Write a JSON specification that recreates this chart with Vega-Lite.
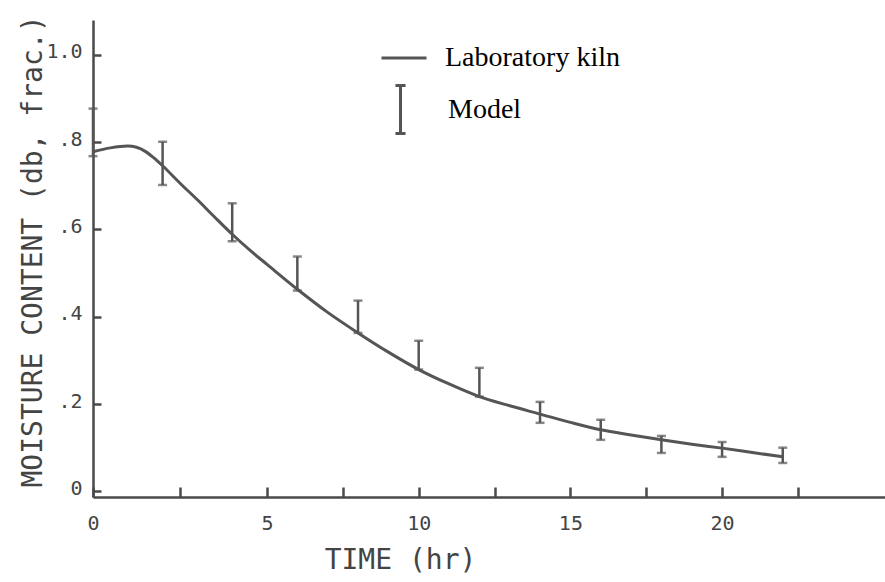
{
  "$schema": "https://vega.github.io/schema/vega-lite/v6.json",
  "autosize": {"type": "none"},
  "padding": {"left": 93, "top": 20, "right": 0, "bottom": 85},
  "width": 792,
  "height": 477,
  "background": "white",
  "config": {
    "view": {"stroke": null},
    "axis": {
      "domainColor": "#4a4a4a",
      "domainWidth": 2.5,
      "tickColor": "#4a4a4a",
      "tickWidth": 2.5,
      "grid": false,
      "labelFont": "DejaVu Sans Mono",
      "labelFontSize": 20,
      "labelColor": "#444",
      "titleFont": "DejaVu Sans Mono",
      "titleFontSize": 28,
      "titleFontWeight": "normal",
      "titleColor": "#444"
    }
  },
  "datasets": {
    "kiln": [
      {"t": 0, "mc": 0.778}, {"t": 0.5, "mc": 0.787}, {"t": 1.0, "mc": 0.791}, {"t": 1.5, "mc": 0.779},
      {"t": 1.75, "mc": 0.764}, {"t": 2, "mc": 0.746}, {"t": 2.5, "mc": 0.706}, {"t": 3, "mc": 0.668},
      {"t": 3.5, "mc": 0.628}, {"t": 4, "mc": 0.589}, {"t": 4.5, "mc": 0.553}, {"t": 5, "mc": 0.520},
      {"t": 6, "mc": 0.463}, {"t": 7, "mc": 0.410}, {"t": 8, "mc": 0.363}, {"t": 9, "mc": 0.319},
      {"t": 10, "mc": 0.279}, {"t": 11, "mc": 0.246}, {"t": 12, "mc": 0.217}, {"t": 13, "mc": 0.196},
      {"t": 14, "mc": 0.177}, {"t": 15, "mc": 0.158}, {"t": 16, "mc": 0.141}, {"t": 17, "mc": 0.129},
      {"t": 18, "mc": 0.118}, {"t": 19, "mc": 0.108}, {"t": 20, "mc": 0.099}, {"t": 21, "mc": 0.089},
      {"t": 22, "mc": 0.079}
    ],
    "model": [
      {"t": 0, "lo": 0.768, "hi": 0.877},
      {"t": 2, "lo": 0.702, "hi": 0.801},
      {"t": 4, "lo": 0.573, "hi": 0.660},
      {"t": 6, "lo": 0.460, "hi": 0.538},
      {"t": 8, "lo": 0.363, "hi": 0.437},
      {"t": 10, "lo": 0.279, "hi": 0.345},
      {"t": 12, "lo": 0.217, "hi": 0.283},
      {"t": 14, "lo": 0.157, "hi": 0.205},
      {"t": 16, "lo": 0.118, "hi": 0.164},
      {"t": 18, "lo": 0.088, "hi": 0.127},
      {"t": 20, "lo": 0.079, "hi": 0.113},
      {"t": 22, "lo": 0.065, "hi": 0.100}
    ]
  },
  "encoding": {
    "x": {
      "field": "t",
      "type": "quantitative",
      "scale": {"domain": [0, 5, 25.37], "range": [0, 174, 792], "zero": false, "nice": false},
      "axis": {
        "title": "TIME (hr)",
        "values": [0, 2.5, 5, 7.5, 10, 12.5, 15, 17.5, 20, 22.5],
        "labelExpr": "datum.value % 5 == 0 ? format(datum.value, 'd') : ''",
        "tickSize": -10,
        "labelPadding": 26,
        "labelFlush": false,
        "labelOverlap": false,
        "titleX": 307,
        "titleY": 63,
        "titleBaseline": "middle",
        "titleAnchor": "middle"
      }
    }
  },
  "layer": [
    {
      "data": {"name": "kiln"},
      "mark": {"type": "line", "interpolate": "monotone", "strokeWidth": 3},
      "encoding": {
        "y": {
          "field": "mc",
          "type": "quantitative",
          "title": "MOISTURE CONTENT (db, frac.)",
          "scale": {"domain": [-0.013, 1.08], "zero": false, "nice": false},
          "axis": {
            "values": [0, 0.2, 0.4, 0.6, 0.8, 1.0],
            "labelExpr": "datum.value == 0 ? '0' : datum.value == 1 ? '1.0' : replace(format(datum.value, '.1f'), '0.', '.')",
            "tickSize": -8,
            "labelPadding": 19,
            "labelOffset": -3,
            "labelFlush": false,
            "labelOverlap": false,
            "titleX": -60,
            "titleY": 231,
            "titleBaseline": "middle",
            "titleAnchor": "middle"
          }
        },
        "color": {
          "datum": "Laboratory kiln",
          "type": "nominal",
          "scale": {"range": ["#555555"]},
          "legend": {
            "title": null,
            "orient": "none",
            "legendX": 287,
            "legendY": 14,
            "padding": 0,
            "symbolType": "stroke",
            "symbolSize": 2025,
            "symbolStrokeWidth": 3,
            "labelFont": "Liberation Serif",
            "labelFontSize": 28,
            "labelColor": "#000",
            "labelOffset": 17,
            "labelLimit": 400
          }
        }
      }
    },
    {
      "data": {"name": "model"},
      "mark": {
        "type": "errorbar",
        "color": "#555555",
        "thickness": 2.5,
        "ticks": {"size": 9, "thickness": 2.5, "color": "#555555"}
      },
      "encoding": {
        "y": {"field": "lo", "type": "quantitative", "title": "MOISTURE CONTENT (db, frac.)"},
        "y2": {"field": "hi"}
      }
    },
    {
      "data": {"name": "model"},
      "mark": {"type": "point", "opacity": 0, "color": "#555555", "filled": false},
      "encoding": {
        "y": {"field": "hi", "type": "quantitative", "title": "MOISTURE CONTENT (db, frac.)"},
        "shape": {
          "datum": "Model",
          "type": "nominal",
          "scale": {"range": ["M0,-1V1M-0.21,-1H0.21M-0.21,1H0.21"]},
          "legend": {
            "title": null,
            "orient": "none",
            "legendX": 282,
            "legendY": 64,
            "padding": 0,
            "symbolSize": 2304,
            "symbolStrokeWidth": 3,
            "symbolStrokeColor": "#555555",
            "symbolOpacity": 1,
            "labelFont": "Liberation Serif",
            "labelFontSize": 28,
            "labelColor": "#000",
            "labelOffset": 22,
            "labelLimit": 400
          }
        }
      }
    }
  ]
}
